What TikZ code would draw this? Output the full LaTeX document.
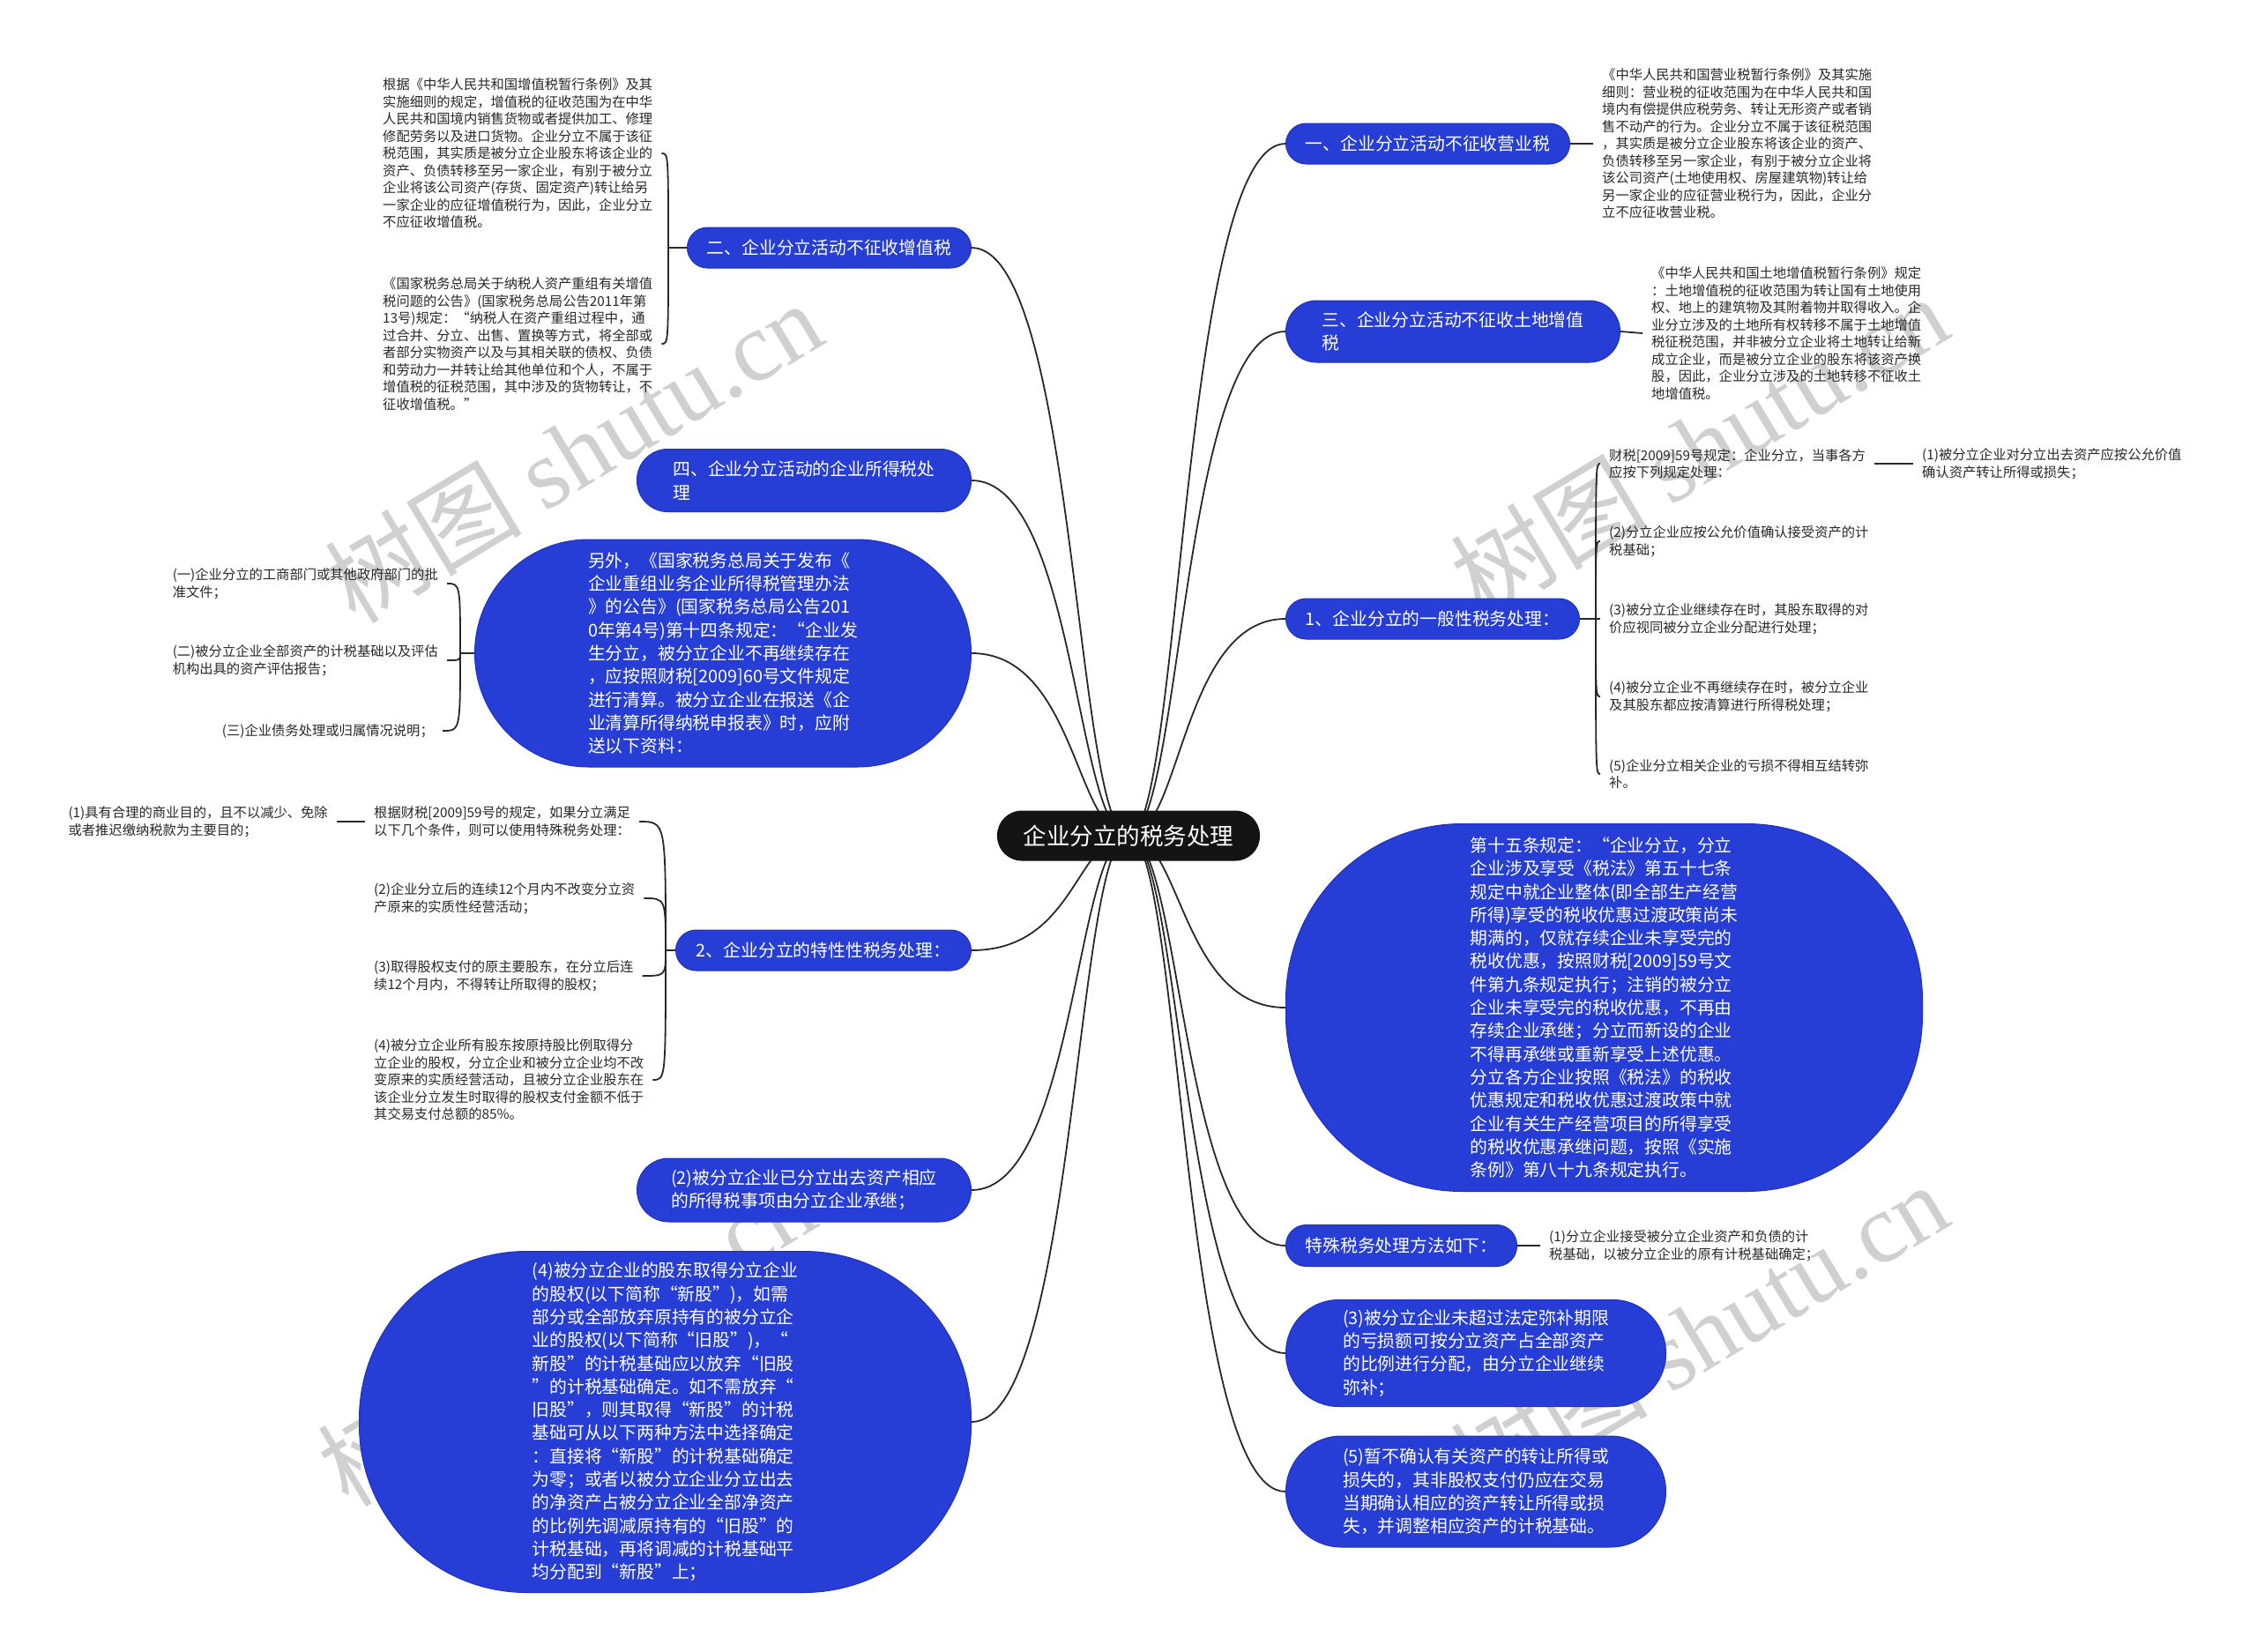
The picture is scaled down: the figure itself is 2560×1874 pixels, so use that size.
\documentclass[tikz,border=0pt]{standalone}
\usepackage{fontspec}
\setmainfont{Noto Sans CJK SC}
\newfontfamily\wmlatin{Liberation Serif}
\usetikzlibrary{calc,backgrounds}
\definecolor{nblue}{RGB}{38,61,214}
\definecolor{nbd}{RGB}{30,48,190}
\definecolor{ink}{RGB}{40,40,40}
\definecolor{wm}{RGB}{208,208,208}
\definecolor{cblack}{RGB}{20,20,20}
\newcommand\fsS{\fontsize{15.3}{19.5}\selectfont}
\newcommand\fsB{\fontsize{19.8}{26.3}\selectfont}
\newcommand\fsC{\fontsize{26.5}{32}\selectfont}
\tikzset{
  blue node/.style={fill=nblue, draw=nbd, line width=1pt, text=white, font=\fsB, align=left, inner sep=0pt},
  leaf/.style={text=ink, font=\fsS, align=left, inner xsep=10pt, inner ysep=0pt},
  conn/.style={draw=ink, line width=1.8pt},
  rcurve/.style={to path={.. controls ($(\tikztostart)+(60,0)$) and ($(\tikztostart|-\tikztotarget)+(60,0)$) .. (\tikztotarget)}},
  lcurve/.style={to path={.. controls ($(\tikztostart)+(-60,0)$) and ($(\tikztostart|-\tikztotarget)+(-60,0)$) .. (\tikztotarget)}},
  bracecurve/.style={to path={.. controls (\tikztostart|-\tikztotarget) .. (\tikztotarget)}},
  wmark/.style={text=wm, font=\fontsize{112}{112}\selectfont, rotate=31, inner sep=0pt},
}
\begin{document}
\begin{tikzpicture}[x=1pt,y=-1pt]
\useasboundingbox (0,0) rectangle (2560,1874);

% centre
\node[fill=cblack, text=white, font=\fsC, rounded corners=28pt, minimum width=298pt, minimum height=57pt, inner sep=0pt] (c) at (1280,948) {企业分立的税务处理};

% ---------- right side ----------
\node[blue node, anchor=west, minimum width=322pt, minimum height=46pt, rounded corners=23pt] (B1) at (1458,163) {一、企业分立活动不征收营业税};
\node[leaf, anchor=west] (l1) at (1807,163) {《中华人民共和国营业税暂行条例》及其实施\\
细则：营业税的征收范围为在中华人民共和国\\
境内有偿提供应税劳务、转让无形资产或者销\\
售不动产的行为。企业分立不属于该征税范围\\
，其实质是被分立企业股东将该企业的资产、\\
负债转移至另一家企业，有别于被分立企业将\\
该公司资产(土地使用权、房屋建筑物)转让给\\
另一家企业的应征营业税行为，因此，企业分\\
立不应征收营业税。};

\node[blue node, anchor=west, minimum width=379pt, minimum height=70pt, rounded corners=35pt] (B3) at (1458,376) {三、企业分立活动不征收土地增值\\税};
\node[leaf, anchor=west] (l3) at (1863,378) {《中华人民共和国土地增值税暂行条例》规定\\
：土地增值税的征收范围为转让国有土地使用\\
权、地上的建筑物及其附着物并取得收入。企\\
业分立涉及的土地所有权转移不属于土地增值\\
税征税范围，并非被分立企业将土地转让给新\\
成立企业，而是被分立企业的股东将该资产换\\
股，因此，企业分立涉及的土地转移不征收土\\
地增值税。};

\node[blue node, anchor=west, minimum width=333pt, minimum height=46pt, rounded corners=23pt] (B5) at (1458,702) {1、企业分立的一般性税务处理：};
\coordinate (j5) at (1810,702);
\node[leaf, anchor=west] (c1) at (1815,526) {财税[2009]59号规定：企业分立，当事各方\\应按下列规定处理：};
\node[leaf, anchor=west] (g1) at (2170,526) {(1)被分立企业对分立出去资产应按公允价值\\确认资产转让所得或损失；};
\node[leaf, anchor=west] (c2) at (1815,614) {(2)分立企业应按公允价值确认接受资产的计\\税基础；};
\node[leaf, anchor=west] (c3) at (1815,702) {(3)被分立企业继续存在时，其股东取得的对\\价应视同被分立企业分配进行处理；};
\node[leaf, anchor=west] (c4) at (1815,790) {(4)被分立企业不再继续存在时，被分立企业\\及其股东都应按清算进行所得税处理；};
\node[leaf, anchor=west] (c5) at (1815,878) {(5)企业分立相关企业的亏损不得相互结转弥\\补。};

\node[blue node, anchor=west, minimum width=722pt, minimum height=417pt, rounded corners=200pt] (bigR) at (1458,1143) {第十五条规定：“企业分立，分立\\
企业涉及享受《税法》第五十七条\\
规定中就企业整体(即全部生产经营\\
所得)享受的税收优惠过渡政策尚未\\
期满的，仅就存续企业未享受完的\\
税收优惠，按照财税[2009]59号文\\
件第九条规定执行；注销的被分立\\
企业未享受完的税收优惠，不再由\\
存续企业承继；分立而新设的企业\\
不得再承继或重新享受上述优惠。\\
分立各方企业按照《税法》的税收\\
优惠规定和税收优惠过渡政策中就\\
企业有关生产经营项目的所得享受\\
的税收优惠承继问题，按照《实施\\
条例》第八十九条规定执行。};

\node[blue node, anchor=west, minimum width=262pt, minimum height=47pt, rounded corners=23pt] (sp) at (1458,1413) {特殊税务处理方法如下：};
\node[leaf, anchor=west] (lsp) at (1747,1413) {(1)分立企业接受被分立企业资产和负债的计\\税基础，以被分立企业的原有计税基础确定；};

\node[blue node, anchor=west, minimum width=431pt, minimum height=121pt, rounded corners=60pt] (b3) at (1458,1535) {(3)被分立企业未超过法定弥补期限\\
的亏损额可按分立资产占全部资产\\
的比例进行分配，由分立企业继续\\
弥补；};
\node[blue node, anchor=west, minimum width=431pt, minimum height=126pt, rounded corners=63pt] (b5) at (1458,1692) {(5)暂不确认有关资产的转让所得或\\
损失的，其非股权支付仍应在交易\\
当期确认相应的资产转让所得或损\\
失，并调整相应资产的计税基础。};

% ---------- left side ----------
\node[blue node, anchor=east, minimum width=322pt, minimum height=46pt, rounded corners=23pt] (B2) at (1102,281) {二、企业分立活动不征收增值税};
\coordinate (j2) at (758,281);
\node[leaf, anchor=west] (tA) at (424,174) {根据《中华人民共和国增值税暂行条例》及其\\
实施细则的规定，增值税的征收范围为在中华\\
人民共和国境内销售货物或者提供加工、修理\\
修配劳务以及进口货物。企业分立不属于该征\\
税范围，其实质是被分立企业股东将该企业的\\
资产、负债转移至另一家企业，有别于被分立\\
企业将该公司资产(存货、固定资产)转让给另\\
一家企业的应征增值税行为，因此，企业分立\\
不应征收增值税。};
\node[leaf, anchor=west] (tB) at (424,390) {《国家税务总局关于纳税人资产重组有关增值\\
税问题的公告》(国家税务总局公告2011年第\\
13号)规定：“纳税人在资产重组过程中，通\\
过合并、分立、出售、置换等方式，将全部或\\
者部分实物资产以及与其相关联的债权、负债\\
和劳动力一并转让给其他单位和个人，不属于\\
增值税的征税范围，其中涉及的货物转让，不\\
征收增值税。”};

\node[blue node, anchor=east, minimum width=379pt, minimum height=71pt, rounded corners=35pt] (B4) at (1102,545) {四、企业分立活动的企业所得税处\\理};

\node[blue node, anchor=east, minimum width=563pt, minimum height=258pt, rounded corners=129pt] (le) at (1102,741) {另外，《国家税务总局关于发布《\\
企业重组业务企业所得税管理办法\\
》的公告》(国家税务总局公告201\\
0年第4号)第十四条规定：“企业发\\
生分立，被分立企业不再继续存在\\
，应按照财税[2009]60号文件规定\\
进行清算。被分立企业在报送《企\\
业清算所得纳税申报表》时，应附\\
送以下资料：};
\coordinate (jle) at (522,741);
\node[leaf, anchor=east] (e1) at (507,662) {(一)企业分立的工商部门或其他政府部门的批\\准文件；};
\node[leaf, anchor=east] (e2) at (507,749) {(二)被分立企业全部资产的计税基础以及评估\\机构出具的资产评估报告；};
\node[leaf, anchor=east] (e3) at (502,829) {(三)企业债务处理或归属情况说明；};

\node[blue node, anchor=east, minimum width=335pt, minimum height=46pt, rounded corners=23pt] (B6) at (1102,1078) {2、企业分立的特性性税务处理：};
\coordinate (j6) at (755,1078);
\node[leaf, anchor=west] (d1) at (414,932) {根据财税[2009]59号的规定，如果分立满足\\以下几个条件，则可以使用特殊税务处理：};
\node[leaf, anchor=east] (gd1) at (382,932) {(1)具有合理的商业目的，且不以减少、免除\\或者推迟缴纳税款为主要目的；};
\node[leaf, anchor=west] (d2) at (414,1019) {(2)企业分立后的连续12个月内不改变分立资\\产原来的实质性经营活动；};
\node[leaf, anchor=west] (d3) at (414,1107) {(3)取得股权支付的原主要股东，在分立后连\\续12个月内，不得转让所取得的股权；};
\node[leaf, anchor=west] (d4) at (414,1225) {(4)被分立企业所有股东按原持股比例取得分\\
立企业的股权，分立企业和被分立企业均不改\\
变原来的实质经营活动，且被分立企业股东在\\
该企业分立发生时取得的股权支付金额不低于\\
其交易支付总额的85\%。};

\node[blue node, anchor=east, minimum width=379pt, minimum height=72pt, rounded corners=36pt] (b2l) at (1102,1350) {(2)被分立企业已分立出去资产相应\\的所得税事项由分立企业承继；};

\node[blue node, anchor=east, minimum width=694pt, minimum height=387pt, rounded corners=190pt] (bl) at (1102,1613) {(4)被分立企业的股东取得分立企业\\
的股权(以下简称“新股”)，如需\\
部分或全部放弃原持有的被分立企\\
业的股权(以下简称“旧股”)，“\\
新股”的计税基础应以放弃“旧股\\
”的计税基础确定。如不需放弃“\\
旧股”，则其取得“新股”的计税\\
基础可从以下两种方法中选择确定\\
：直接将“新股”的计税基础确定\\
为零；或者以被分立企业分立出去\\
的净资产占被分立企业全部净资产\\
的比例先调减原持有的“旧股”的\\
计税基础，再将调减的计税基础平\\
均分配到“新股”上；};

% ---------- background: watermarks and connectors ----------
\begin{scope}[on background layer]
\fill[white] (0,0) rectangle (2560,1874);
\node[wmark] (w1) at (650,512) {树图 {\wmlatin shutu.cn}};
\node[wmark] (w2) at (1927,505) {树图 {\wmlatin shutu.cn}};
\node[wmark] (w3) at (642,1514) {树图 {\wmlatin shutu.cn}};
\node[wmark] (w4) at (1927,1512) {树图 {\wmlatin shutu.cn}};

\foreach \n in {B1,B3,B5,bigR,sp,b3,b5} \draw[conn] (c.center) to[rcurve] (\n.west);
\foreach \n in {B2,B4,le,B6,b2l,bl} \draw[conn] (c.center) to[lcurve] (\n.east);

\draw[conn] (B1.east) -- (l1.west);
\draw[conn] (B3.east) -- (l3.west);
\draw[conn] (sp.east) -- (lsp.west);
\draw[conn] (B5.east) -- (j5);
\foreach \n in {c1,c2,c3,c4,c5} \draw[conn] (j5) to[bracecurve] (\n.west);
\draw[conn] (c1.east) -- (g1.west);

\draw[conn] (B2.west) -- (j2);
\foreach \n in {tA,tB} \draw[conn] (j2) to[bracecurve] (\n.east);
\draw[conn] (le.west) -- (jle);
\foreach \n in {e1,e2,e3} \draw[conn] (jle) to[bracecurve] (\n.east);
\draw[conn] (B6.west) -- (j6);
\foreach \n in {d1,d2,d3,d4} \draw[conn] (j6) to[bracecurve] (\n.east);
\draw[conn] (d1.west) -- (gd1.east);
\end{scope}
\end{tikzpicture}
\end{document}
